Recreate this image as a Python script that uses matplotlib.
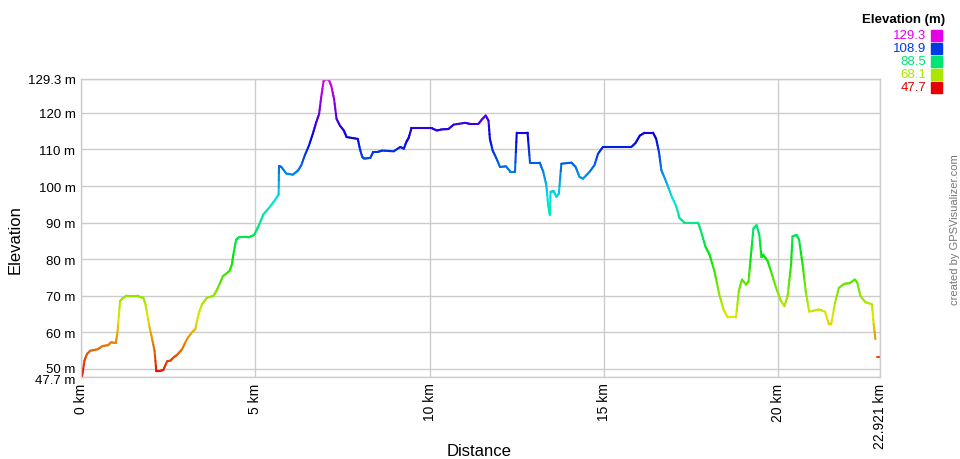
import numpy as np
import matplotlib
matplotlib.use("Agg")
import matplotlib.pyplot as plt
from matplotlib.collections import LineCollection
from matplotlib.colors import hsv_to_rgb
from matplotlib.transforms import ScaledTranslation

plt.rcParams['font.family'] = ['Liberation Sans', 'DejaVu Sans']

distance_km = [0.0, 0.03, 0.1, 0.17, 0.27, 0.48, 0.62, 0.78, 0.86, 1.0, 1.05, 1.12, 1.19, 1.31, 1.62, 1.69,
               1.79, 1.85, 1.95, 2.04, 2.11, 2.16, 2.23, 2.36, 2.47, 2.57, 2.66, 2.76, 2.9, 3.04, 3.18,
               3.28, 3.37, 3.47, 3.61, 3.8, 3.88, 3.95, 4.07, 4.26, 4.33, 4.37, 4.45, 4.52, 4.8, 4.97,
               5.04, 5.13, 5.23, 5.42, 5.56, 5.67, 5.68, 5.75, 5.89, 6.08, 6.23, 6.32, 6.42, 6.54, 6.65,
               6.75, 6.83, 6.89, 6.96, 7.03, 7.11, 7.18, 7.26, 7.33, 7.43, 7.54, 7.62, 7.94, 8.0, 8.07,
               8.13, 8.3, 8.38, 8.5, 8.64, 8.97, 9.16, 9.26, 9.33, 9.4, 9.48, 10.07, 10.21, 10.35, 10.54,
               10.69, 11.02, 11.16, 11.4, 11.5, 11.61, 11.69, 11.73, 11.81, 11.92, 12.02, 12.19, 12.32,
               12.45, 12.5, 12.81, 12.88, 13.16, 13.26, 13.35, 13.4, 13.45, 13.47, 13.56, 13.64, 13.71,
               13.78, 14.07, 14.19, 14.3, 14.4, 14.59, 14.73, 14.83, 14.97, 15.41, 15.79, 15.91, 16.03,
               16.17, 16.41, 16.5, 16.58, 16.65, 16.79, 16.93, 17.08, 17.17, 17.31, 17.7, 17.79, 17.91,
               18.03, 18.17, 18.31, 18.43, 18.55, 18.79, 18.87, 18.96, 19.08, 19.15, 19.22, 19.29, 19.38,
               19.46, 19.52, 19.57, 19.7, 19.79, 19.94, 20.08, 20.18, 20.27, 20.37, 20.41, 20.53, 20.6,
               20.7, 20.79, 20.89, 21.08, 21.17, 21.34, 21.46, 21.52, 21.63, 21.74, 21.89, 22.05, 22.2,
               22.27, 22.36, 22.5, 22.69, 22.74, 22.79, 22.815, 22.84, 22.921]
elevation_m = [47.7, 47.9, 52.2, 54.0, 54.9, 55.3, 56.2, 56.4, 57.2, 57.0, 60.3, 68.5, 69.2, 70.0, 70.0, 69.6,
               69.4, 67.6, 62.1, 58.1, 54.9, 49.3, 49.3, 49.6, 52.0, 52.2, 53.1, 53.8, 55.3, 58.1, 59.9,
               60.8, 64.9, 67.6, 69.4, 69.9, 71.2, 72.6, 75.3, 76.7, 78.6, 81.2, 85.3, 85.9, 85.9, 86.6,
               88.0, 89.8, 92.2, 94.3, 96.1, 97.7, 105.5, 105.2, 103.4, 103.1, 104.3, 105.7, 108.4, 111.1, 114.3,
               117.5, 119.7, 124.3, 128.8, 129.3, 129.1, 127.4, 123.8, 118.4, 116.5, 115.2, 113.4, 112.9, 110.2, 107.9,
               107.5, 107.7, 109.3, 109.3, 109.7, 109.5, 110.7, 110.2, 112.0, 113.2, 115.8, 115.8, 115.2, 115.5, 115.6,
               116.8, 117.3, 117.0, 117.0, 118.2, 119.3, 117.9, 112.9, 109.7, 107.5, 105.2, 105.4, 103.9,
               103.9, 114.6, 114.6, 106.4, 106.4, 103.9, 100.2, 94.8, 92.1, 98.4, 98.6, 97.0, 98.0,
               106.1, 106.4, 105.2, 102.5, 102.0, 103.9, 105.7, 108.8, 110.7, 110.7, 110.7, 111.8, 113.8,
               114.6, 114.6, 112.9, 109.3, 104.3, 101.1, 97.5, 94.3, 91.2, 90.0, 90.0, 87.5, 83.5,
               81.2, 76.7, 70.3, 66.2, 64.0, 64.0, 71.2, 74.4, 73.0, 73.9, 81.2, 88.4, 89.3,
               86.6, 80.5, 81.2, 79.4, 76.7, 72.1, 68.5, 67.1, 69.9, 78.5, 86.2, 86.6, 85.3,
               78.5, 71.2, 65.6, 66.0, 66.2, 65.6, 62.1, 62.1, 68.0, 72.1, 73.2, 73.4, 74.4,
               73.5, 69.9, 68.2, 67.6, 62.1, 58.1, np.nan, 53.3, 53.3]

y_ticks = [47.7, 50, 60, 70, 80, 90, 100, 110, 120, 129.3]
y_tick_labels = ["47.7 m", "50 m", "60 m", "70 m", "80 m", "90 m", "100 m", "110 m", "120 m", "129.3 m"]
x_ticks = [0, 5, 10, 15, 20, 22.921]
x_tick_labels = ["0 km", "5 km", "10 km", "15 km", "20 km", "22.921 km"]
legend_values = [129.3, 108.9, 88.5, 68.1, 47.7]

e_min, e_max = 47.7, 129.3


def elev_color(e):
    h = (e - e_min) / (e_max - e_min) * (300.0 / 360.0)
    return hsv_to_rgb([h, 1.0, 0.9])


fig = plt.figure(figsize=(9.6, 4.6), dpi=100)
ax = fig.add_axes([81 / 960, 1 - 378 / 460, (880 - 81) / 960, (378 - 80) / 460])

x = np.array(distance_km, dtype=float)
y = np.array(elevation_m, dtype=float)
segs, cols = [], []
for i in range(len(x) - 1):
    if np.isnan(y[i]) or np.isnan(y[i + 1]):
        continue
    n = 4
    xs = np.linspace(x[i], x[i + 1], n + 1)
    ys = np.linspace(y[i], y[i + 1], n + 1)
    for k in range(n):
        segs.append([(xs[k], ys[k]), (xs[k + 1], ys[k + 1])])
        cols.append(elev_color((ys[k] + ys[k + 1]) / 2))
lc = LineCollection(segs, colors=cols, linewidths=1.5, capstyle='round')
ax.add_collection(lc)

ax.set_xlim(0, 22.921)
ax.set_ylim(e_min, e_max)
ax.set_yticks(y_ticks)
ax.set_yticklabels(y_tick_labels, fontsize=9.5)
ax.set_xticks(x_ticks)
ax.set_xticklabels(x_tick_labels, fontsize=10, rotation=90)
ax.tick_params(length=0, pad=4, colors='black')
ax.grid(True, color='#cccccc', linewidth=1)
ax.set_axisbelow(True)
for s in ax.spines.values():
    s.set_color('#cccccc')
    s.set_linewidth(1)

# nudge the two crowded bottom labels apart slightly (as in the reference)
ylabels = ax.get_yticklabels()
ylabels[0].set_transform(ylabels[0].get_transform() + ScaledTranslation(0, -2 / 100, fig.dpi_scale_trans))
ylabels[1].set_transform(ylabels[1].get_transform() + ScaledTranslation(0, 1 / 100, fig.dpi_scale_trans))

fig.text(15 / 960, 1 - 240 / 460, "Elevation", rotation=90, ha='center', va='center', fontsize=12)
fig.text(479 / 960, 1 - 452 / 460, "Distance", ha='center', va='center', fontsize=12)

# Legend
fig.text(945 / 960, 1 - 20 / 460, "Elevation (m)", ha='right', va='center', fontsize=9.5, fontweight='bold')
for i, v in enumerate(legend_values):
    yy = 1 - (36 + 13 * i) / 460
    c = elev_color(v)
    fig.text(926 / 960, yy, f"{v:.1f}", ha='right', va='center', fontsize=9.5, color=c)
    fig.patches.append(plt.Rectangle((931 / 960, yy - 5.5 / 460), 11 / 960, 11 / 460,
                                     transform=fig.transFigure, color=c, figure=fig))

fig.text(955 / 960, 1 - 230 / 460, "created by GPSVisualizer.com", rotation=90, ha='center', va='center',
         fontsize=8, color='#777777')

fig.savefig("out.png", dpi=100)
